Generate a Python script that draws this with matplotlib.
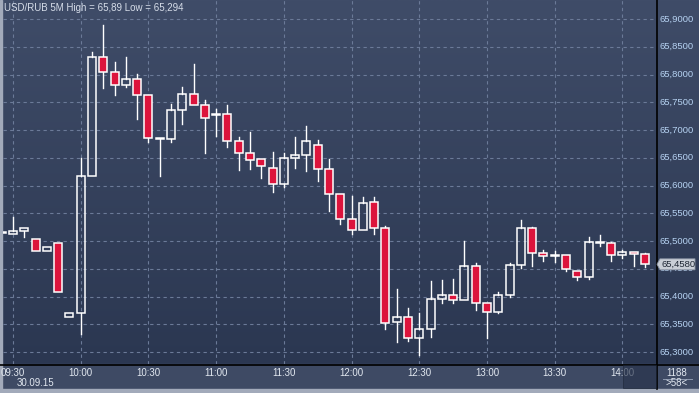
import numpy as np
import pandas as pd
import matplotlib
matplotlib.use("Agg")
import matplotlib.pyplot as plt
from matplotlib.patches import Rectangle, Polygon

plt.rcParams['font.family'] = ['Liberation Sans', 'DejaVu Sans']

# 5-minute candles, 30.09.15, 09:25 .. 14:10
times = pd.date_range("2015-09-30 09:25", periods=58, freq="5min")
opens = [65.5144, 65.5126, 65.5180, 65.5036, 65.4820, 65.4964, 65.3631, 65.3703,
         65.6171, 65.8315, 65.8045, 65.7811, 65.7919, 65.7631, 65.6838, 65.6838,
         65.7360, 65.7649, 65.7450, 65.7270, 65.7288, 65.6802, 65.6586, 65.6477,
         65.6315, 65.6027, 65.6495, 65.6550, 65.6730, 65.6297, 65.5847, 65.5396,
         65.5198, 65.5703, 65.5234, 65.3541, 65.3631, 65.3252, 65.3414, 65.3955,
         65.4027, 65.3937, 65.4550, 65.3883, 65.3721, 65.4027, 65.4568, 65.5234,
         65.4784, 65.4730, 65.4748, 65.4459, 65.4351, 65.4964, 65.4964, 65.4748,
         65.4802, 65.4766]
highs = [65.5144, 65.5432, 65.5234, 65.5036, 65.4892, 65.4964, 65.3703, 65.6495,
         65.8405, 65.8900, 65.8225, 65.8315, 65.8009, 65.7631, 65.6838, 65.7468,
         65.7775, 65.8189, 65.7541, 65.7378, 65.7450, 65.6874, 65.6964, 65.6477,
         65.6604, 65.6586, 65.6874, 65.7072, 65.6820, 65.6477, 65.5847, 65.5811,
         65.5793, 65.5793, 65.5270, 65.4135, 65.3793, 65.3703, 65.4279, 65.4297,
         65.4315, 65.5000, 65.4604, 65.3883, 65.4081, 65.4604, 65.5378, 65.5252,
         65.4838, 65.4820, 65.4748, 65.4459, 65.5072, 65.5108, 65.4982, 65.4838,
         65.4802, 65.4784]
lows = [65.5144, 65.5126, 65.5072, 65.4820, 65.4820, 65.4081, 65.3631, 65.3324,
        65.6171, 65.7757, 65.7631, 65.7775, 65.7198, 65.6784, 65.6171, 65.6784,
        65.7108, 65.7450, 65.6586, 65.6892, 65.6694, 65.6279, 65.6297, 65.6135,
        65.5883, 65.5973, 65.6315, 65.6261, 65.6081, 65.5541, 65.5306, 65.5126,
        65.5198, 65.5126, 65.3414, 65.3180, 65.3198, 65.2940, 65.3270, 65.3883,
        65.3883, 65.3937, 65.3757, 65.3252, 65.3703, 65.3991, 65.4514, 65.4550,
        65.4640, 65.4622, 65.4459, 65.4297, 65.4315, 65.4910, 65.4640, 65.4694,
        65.4550, 65.4532]
closes = [65.5144, 65.5180, 65.5234, 65.4820, 65.4892, 65.4081, 65.3703, 65.6171,
          65.8315, 65.8045, 65.7811, 65.7919, 65.7631, 65.6856, 65.6838, 65.7360,
          65.7649, 65.7450, 65.7216, 65.7270, 65.6802, 65.6586, 65.6459, 65.6351,
          65.6027, 65.6495, 65.6550, 65.6802, 65.6297, 65.5847, 65.5396, 65.5198,
          65.5685, 65.5234, 65.3523, 65.3631, 65.3252, 65.3414, 65.3955, 65.4027,
          65.3937, 65.4550, 65.3883, 65.3721, 65.4027, 65.4568, 65.5234, 65.4784,
          65.4730, 65.4730, 65.4495, 65.4351, 65.4982, 65.4964, 65.4748, 65.4802,
          65.4766, 65.4580]

price_ticks = [65.30, 65.35, 65.40, 65.45, 65.50, 65.55, 65.60, 65.65,
               65.70, 65.75, 65.80, 65.85, 65.90]
time_ticks = ["09:30", "10:00", "10:30", "11:00", "11:30", "12:00",
              "12:30", "13:00", "13:30", "14:00"]
title = "USD/RUB 5M High = 65,89 Low = 65,294"
last_price = closes[-1]

W, H = 699, 393
fig = plt.figure(figsize=(W / 100, H / 100), dpi=100)

# background layer in pixel coordinates
bg = fig.add_axes([0, 0, 1, 1])
bg.set_xlim(0, W)
bg.set_ylim(H, 0)
bg.axis("off")
grad = np.linspace(0, 1, 256).reshape(-1, 1)
top_c = np.array([0x3f, 0x4c, 0x68]) / 255
bot_c = np.array([0x2b, 0x37, 0x51]) / 255
img = top_c + (bot_c - top_c) * grad[..., None]
bg.imshow(img, extent=[0, W, 364, 0], aspect="auto", zorder=0)
bg.add_patch(Rectangle((0, 364), W, 25, color="#3e4a64", zorder=1))
bg.add_patch(Rectangle((0, 389), W, 4, color="#a2aaba", zorder=1))
bg.add_patch(Rectangle((0, 0), 2, 389, color="#a2aaba", zorder=1))
bg.plot([0, W], [364.5, 364.5], color="black", lw=1.2, zorder=2)
bg.plot([656.5, 656.5], [0, 389], color="black", lw=1.2, zorder=2)

# plot area
L, R, T, B = 3, 656, 0, 364
ax = fig.add_axes([L / W, (H - B) / H, (R - L) / W, (B - T) / H])
ax.patch.set_alpha(0)
for s in ax.spines.values():
    s.set_visible(False)
ax.set_xticks([])
ax.set_yticks([])

px = 11.286
x0 = 1.7
ax.set_xlim((L - x0) / px, (R - x0) / px)
ppv = 555.0
ax.set_ylim(65.9 - (B - 19) / ppv, 65.9 + 19 / ppv)

xs = np.arange(len(times))
grid_kw = dict(color="#6b7a98", lw=0.8, ls=(0, (3, 3)), zorder=1)
for p in price_ticks:
    ax.axhline(p, **grid_kw)
tick_idx = [i for i, t in enumerate(times) if t.strftime("%H:%M") in time_ticks]
for i in tick_idx:
    ax.axvline(xs[i], **grid_kw)

red = "#dc143c"
bw = 8 / px
for i in range(len(times)):
    o, h, l, c = opens[i], highs[i], lows[i], closes[i]
    top, bot = max(o, c), min(o, c)
    if h > top:
        ax.plot([xs[i], xs[i]], [top, h], color="white", lw=1.0, zorder=3)
    if l < bot:
        ax.plot([xs[i], xs[i]], [l, bot], color="white", lw=1.0, zorder=3)
    face = red if c < o else "none"
    hgt = max(top - bot, 0.0015)
    ax.add_patch(Rectangle((xs[i] - bw / 2, bot), bw, hgt, facecolor=face,
                           edgecolor="white", lw=1.1, zorder=4))

# texts
fig.text(4 / W, 1 - 8 / H, title, color="#d6dde9", fontsize=7, va="center", ha="left")

def ypix(v):
    return 19 + (65.9 - v) * ppv

for p in price_ticks:
    bg.text(659, ypix(p), f"{p:.4f}".replace(".", ","), color="#b6d2f2",
            fontsize=6.8, va="center", ha="left", zorder=5)

# last price tag
yl = ypix(last_price)
bg.add_patch(Polygon([[657, yl], [660, yl - 5.5], [695, yl - 5.5], [695, yl + 5.5],
                      [660, yl + 5.5]], closed=True, facecolor="#c9ced6",
                     edgecolor="#8a93a3", lw=0.6, zorder=6))
bg.text(661, yl, f"{last_price:.4f}".replace(".", ","), color="#1e2633",
        fontsize=6.8, va="center", ha="left", zorder=7)

for i, lab in zip(tick_idx, time_ticks):
    xp = x0 + xs[i] * px
    bg.text(xp, 373, lab, color="#e2e8f0", fontsize=7, va="center", ha="center", zorder=3)
bg.text(17, 383, times[0].strftime("%d.%m.%y"), color="#e2e8f0", fontsize=7,
        va="center", ha="left", zorder=3)

# scroll box over the last label
bg.add_patch(Rectangle((623, 365), 33, 23, facecolor="#27324a", alpha=0.65,
                       edgecolor="#1c2436", lw=0.6, zorder=4))

bg.text(677, 373, "1188", color="#e2e8f0", fontsize=7, va="center", ha="center", zorder=3)
bg.plot([663, 692], [378.5, 378.5], color="#8e9ab0", lw=0.7, zorder=3)
bg.text(677, 383.5, ">58<", color="#e2e8f0", fontsize=7, va="center", ha="center", zorder=3)

fig.savefig("out.png", dpi=100)
